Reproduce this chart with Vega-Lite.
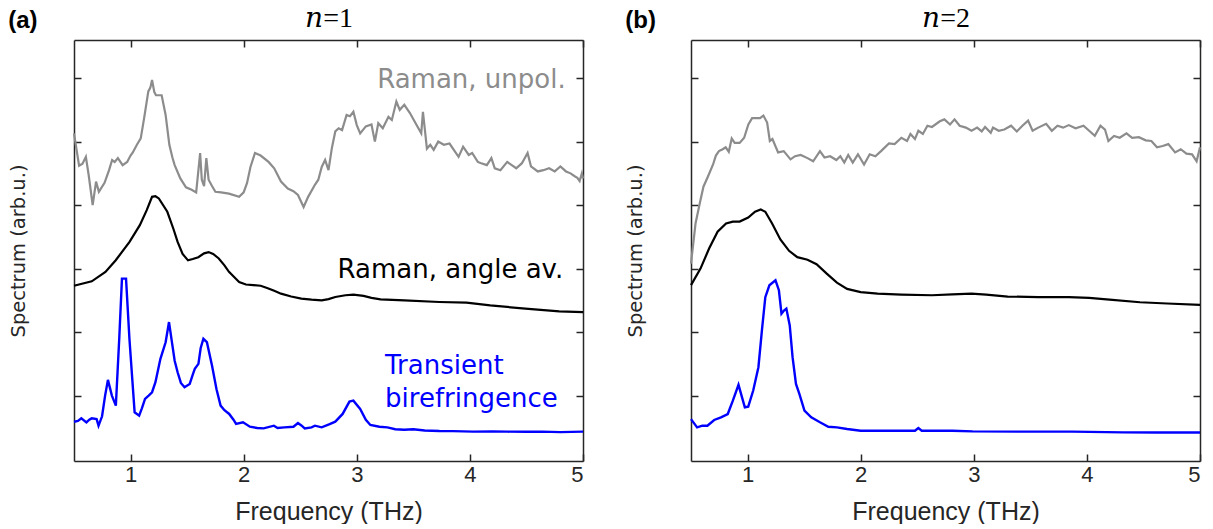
{
"$schema":"https://vega.github.io/schema/vega-lite/v6.json",
"background":"white",
"padding":{"left":8,"top":4,"right":5,"bottom":0},
"spacing":37,
"datasets":{
"na":[
{"s":"gray","f":0.5,"v":5.13},{"s":"gray","f":0.545,"v":4.62},{"s":"gray","f":0.575,"v":4.65},{"s":"gray","f":0.605,"v":4.76},{"s":"gray","f":0.63,"v":4.47},{"s":"gray","f":0.665,"v":4.0},{"s":"gray","f":0.695,"v":4.37},{"s":"gray","f":0.72,"v":4.21},{"s":"gray","f":0.77,"v":4.35},{"s":"gray","f":0.81,"v":4.55},{"s":"gray","f":0.837,"v":4.71},{"s":"gray","f":0.86,"v":4.68},{"s":"gray","f":0.888,"v":4.74},{"s":"gray","f":0.93,"v":4.63},{"s":"gray","f":0.97,"v":4.68},{"s":"gray","f":1.0,"v":4.78},{"s":"gray","f":1.02,"v":4.83},{"s":"gray","f":1.056,"v":4.95},{"s":"gray","f":1.09,"v":5.05},{"s":"gray","f":1.12,"v":5.37},{"s":"gray","f":1.157,"v":5.79},{"s":"gray","f":1.175,"v":5.85},{"s":"gray","f":1.19,"v":5.97},{"s":"gray","f":1.21,"v":5.78},{"s":"gray","f":1.225,"v":5.73},{"s":"gray","f":1.255,"v":5.73},{"s":"gray","f":1.275,"v":5.73},{"s":"gray","f":1.31,"v":5.42},{"s":"gray","f":1.343,"v":4.95},{"s":"gray","f":1.37,"v":4.75},{"s":"gray","f":1.39,"v":4.63},{"s":"gray","f":1.44,"v":4.42},{"s":"gray","f":1.49,"v":4.28},{"s":"gray","f":1.54,"v":4.24},{"s":"gray","f":1.58,"v":4.2},{"s":"gray","f":1.6,"v":4.55},{"s":"gray","f":1.615,"v":4.82},{"s":"gray","f":1.63,"v":4.4},{"s":"gray","f":1.65,"v":4.3},{"s":"gray","f":1.67,"v":4.74},{"s":"gray","f":1.69,"v":4.4},{"s":"gray","f":1.72,"v":4.3},{"s":"gray","f":1.75,"v":4.21},{"s":"gray","f":1.8,"v":4.2},{"s":"gray","f":1.87,"v":4.18},{"s":"gray","f":1.96,"v":4.13},{"s":"gray","f":2.0,"v":4.2},{"s":"gray","f":2.03,"v":4.35},{"s":"gray","f":2.06,"v":4.6},{"s":"gray","f":2.1,"v":4.82},{"s":"gray","f":2.15,"v":4.78},{"s":"gray","f":2.22,"v":4.68},{"s":"gray","f":2.27,"v":4.58},{"s":"gray","f":2.33,"v":4.37},{"s":"gray","f":2.39,"v":4.26},{"s":"gray","f":2.44,"v":4.22},{"s":"gray","f":2.48,"v":4.16},{"s":"gray","f":2.53,"v":3.97},{"s":"gray","f":2.57,"v":4.13},{"s":"gray","f":2.63,"v":4.32},{"s":"gray","f":2.66,"v":4.4},{"s":"gray","f":2.69,"v":4.6},{"s":"gray","f":2.72,"v":4.71},{"s":"gray","f":2.75,"v":4.55},{"s":"gray","f":2.78,"v":4.9},{"s":"gray","f":2.81,"v":5.16},{"s":"gray","f":2.84,"v":5.21},{"s":"gray","f":2.87,"v":5.18},{"s":"gray","f":2.91,"v":5.42},{"s":"gray","f":2.94,"v":5.4},{"s":"gray","f":2.97,"v":5.47},{"s":"gray","f":3.0,"v":5.26},{"s":"gray","f":3.03,"v":5.13},{"s":"gray","f":3.08,"v":5.24},{"s":"gray","f":3.13,"v":5.27},{"s":"gray","f":3.16,"v":5.0},{"s":"gray","f":3.19,"v":5.29},{"s":"gray","f":3.23,"v":5.21},{"s":"gray","f":3.28,"v":5.39},{"s":"gray","f":3.31,"v":5.34},{"s":"gray","f":3.35,"v":5.63},{"s":"gray","f":3.38,"v":5.5},{"s":"gray","f":3.42,"v":5.58},{"s":"gray","f":3.47,"v":5.45},{"s":"gray","f":3.52,"v":5.29},{"s":"gray","f":3.57,"v":5.13},{"s":"gray","f":3.585,"v":5.47},{"s":"gray","f":3.62,"v":4.89},{"s":"gray","f":3.65,"v":4.95},{"s":"gray","f":3.68,"v":4.87},{"s":"gray","f":3.72,"v":5.0},{"s":"gray","f":3.77,"v":4.95},{"s":"gray","f":3.82,"v":4.97},{"s":"gray","f":3.87,"v":4.84},{"s":"gray","f":3.9,"v":4.76},{"s":"gray","f":3.94,"v":4.92},{"s":"gray","f":3.99,"v":4.79},{"s":"gray","f":4.02,"v":4.82},{"s":"gray","f":4.07,"v":4.68},{"s":"gray","f":4.1,"v":4.66},{"s":"gray","f":4.15,"v":4.63},{"s":"gray","f":4.19,"v":4.74},{"s":"gray","f":4.22,"v":4.58},{"s":"gray","f":4.27,"v":4.55},{"s":"gray","f":4.33,"v":4.68},{"s":"gray","f":4.37,"v":4.63},{"s":"gray","f":4.41,"v":4.58},{"s":"gray","f":4.46,"v":4.66},{"s":"gray","f":4.51,"v":4.82},{"s":"gray","f":4.54,"v":4.61},{"s":"gray","f":4.6,"v":4.53},{"s":"gray","f":4.65,"v":4.55},{"s":"gray","f":4.7,"v":4.58},{"s":"gray","f":4.75,"v":4.53},{"s":"gray","f":4.8,"v":4.61},{"s":"gray","f":4.85,"v":4.53},{"s":"gray","f":4.89,"v":4.5},{"s":"gray","f":4.93,"v":4.45},{"s":"gray","f":4.95,"v":4.43},{"s":"gray","f":4.97,"v":4.38},{"s":"gray","f":4.99,"v":4.5},{"s":"gray","f":5.0,"v":4.42},
{"s":"black","f":0.5,"v":2.73},{"s":"black","f":0.657,"v":2.8},{"s":"black","f":0.778,"v":2.947},{"s":"black","f":0.869,"v":3.132},{"s":"black","f":0.991,"v":3.42},{"s":"black","f":1.082,"v":3.684},{"s":"black","f":1.143,"v":3.92},{"s":"black","f":1.19,"v":4.13},{"s":"black","f":1.22,"v":4.14},{"s":"black","f":1.25,"v":4.105},{"s":"black","f":1.325,"v":3.895},{"s":"black","f":1.38,"v":3.62},{"s":"black","f":1.416,"v":3.42},{"s":"black","f":1.46,"v":3.23},{"s":"black","f":1.508,"v":3.13},{"s":"black","f":1.55,"v":3.15},{"s":"black","f":1.599,"v":3.18},{"s":"black","f":1.65,"v":3.24},{"s":"black","f":1.69,"v":3.26},{"s":"black","f":1.73,"v":3.23},{"s":"black","f":1.78,"v":3.16},{"s":"black","f":1.83,"v":3.05},{"s":"black","f":1.87,"v":2.95},{"s":"black","f":1.92,"v":2.86},{"s":"black","f":1.96,"v":2.79},{"s":"black","f":2.02,"v":2.75},{"s":"black","f":2.085,"v":2.74},{"s":"black","f":2.15,"v":2.73},{"s":"black","f":2.207,"v":2.695},{"s":"black","f":2.27,"v":2.65},{"s":"black","f":2.33,"v":2.605},{"s":"black","f":2.42,"v":2.56},{"s":"black","f":2.51,"v":2.526},{"s":"black","f":2.6,"v":2.51},{"s":"black","f":2.69,"v":2.5},{"s":"black","f":2.75,"v":2.52},{"s":"black","f":2.81,"v":2.553},{"s":"black","f":2.9,"v":2.58},{"s":"black","f":2.97,"v":2.59},{"s":"black","f":3.06,"v":2.57},{"s":"black","f":3.13,"v":2.54},{"s":"black","f":3.21,"v":2.516},{"s":"black","f":3.42,"v":2.5},{"s":"black","f":3.73,"v":2.474},{"s":"black","f":3.97,"v":2.463},{"s":"black","f":4.18,"v":2.42},{"s":"black","f":4.49,"v":2.37},{"s":"black","f":4.79,"v":2.326},{"s":"black","f":5.0,"v":2.316},
{"s":"blue","f":0.5,"v":0.589},{"s":"blue","f":0.535,"v":0.6},{"s":"blue","f":0.565,"v":0.642},{"s":"blue","f":0.61,"v":0.579},{"s":"blue","f":0.635,"v":0.62},{"s":"blue","f":0.657,"v":0.642},{"s":"blue","f":0.7,"v":0.63},{"s":"blue","f":0.717,"v":0.526},{"s":"blue","f":0.748,"v":0.674},{"s":"blue","f":0.775,"v":1.0},{"s":"blue","f":0.8,"v":1.247},{"s":"blue","f":0.835,"v":1.0},{"s":"blue","f":0.87,"v":0.842},{"s":"blue","f":0.9,"v":1.9},{"s":"blue","f":0.924,"v":2.842},{"s":"blue","f":0.96,"v":2.842},{"s":"blue","f":0.99,"v":1.895},{"s":"blue","f":1.036,"v":0.737},{"s":"blue","f":1.076,"v":0.684},{"s":"blue","f":1.1,"v":0.8},{"s":"blue","f":1.128,"v":0.947},{"s":"blue","f":1.16,"v":1.0},{"s":"blue","f":1.19,"v":1.053},{"s":"blue","f":1.22,"v":1.21},{"s":"blue","f":1.264,"v":1.579},{"s":"blue","f":1.31,"v":1.84},{"s":"blue","f":1.34,"v":2.158},{"s":"blue","f":1.37,"v":1.79},{"s":"blue","f":1.39,"v":1.55},{"s":"blue","f":1.416,"v":1.368},{"s":"blue","f":1.445,"v":1.2},{"s":"blue","f":1.477,"v":1.132},{"s":"blue","f":1.523,"v":1.184},{"s":"blue","f":1.55,"v":1.33},{"s":"blue","f":1.568,"v":1.42},{"s":"blue","f":1.6,"v":1.5},{"s":"blue","f":1.62,"v":1.75},{"s":"blue","f":1.644,"v":1.895},{"s":"blue","f":1.675,"v":1.842},{"s":"blue","f":1.72,"v":1.474},{"s":"blue","f":1.76,"v":1.1},{"s":"blue","f":1.796,"v":0.842},{"s":"blue","f":1.83,"v":0.77},{"s":"blue","f":1.872,"v":0.711},{"s":"blue","f":1.91,"v":0.62},{"s":"blue","f":1.933,"v":0.553},{"s":"blue","f":1.994,"v":0.579},{"s":"blue","f":2.055,"v":0.51},{"s":"blue","f":2.12,"v":0.49},{"s":"blue","f":2.176,"v":0.484},{"s":"blue","f":2.267,"v":0.526},{"s":"blue","f":2.3,"v":0.49},{"s":"blue","f":2.36,"v":0.5},{"s":"blue","f":2.44,"v":0.51},{"s":"blue","f":2.48,"v":0.568},{"s":"blue","f":2.51,"v":0.53},{"s":"blue","f":2.54,"v":0.484},{"s":"blue","f":2.6,"v":0.5},{"s":"blue","f":2.63,"v":0.526},{"s":"blue","f":2.69,"v":0.5},{"s":"blue","f":2.76,"v":0.55},{"s":"blue","f":2.81,"v":0.589},{"s":"blue","f":2.875,"v":0.711},{"s":"blue","f":2.935,"v":0.905},{"s":"blue","f":2.97,"v":0.92},{"s":"blue","f":3.03,"v":0.79},{"s":"blue","f":3.08,"v":0.62},{"s":"blue","f":3.12,"v":0.537},{"s":"blue","f":3.2,"v":0.51},{"s":"blue","f":3.27,"v":0.5},{"s":"blue","f":3.34,"v":0.47},{"s":"blue","f":3.42,"v":0.463},{"s":"blue","f":3.5,"v":0.47},{"s":"blue","f":3.6,"v":0.45},{"s":"blue","f":3.73,"v":0.442},{"s":"blue","f":3.85,"v":0.44},{"s":"blue","f":4.03,"v":0.432},{"s":"blue","f":4.2,"v":0.435},{"s":"blue","f":4.33,"v":0.432},{"s":"blue","f":4.5,"v":0.43},{"s":"blue","f":4.64,"v":0.432},{"s":"blue","f":4.8,"v":0.425},{"s":"blue","f":5.0,"v":0.432}
],
"nb":[
{"s":"gray","f":0.5,"v":3.08},{"s":"gray","f":0.54,"v":3.71},{"s":"gray","f":0.58,"v":4.05},{"s":"gray","f":0.61,"v":4.29},{"s":"gray","f":0.65,"v":4.45},{"s":"gray","f":0.695,"v":4.64},{"s":"gray","f":0.72,"v":4.78},{"s":"gray","f":0.747,"v":4.85},{"s":"gray","f":0.78,"v":4.88},{"s":"gray","f":0.806,"v":4.91},{"s":"gray","f":0.834,"v":4.84},{"s":"gray","f":0.86,"v":5.05},{"s":"gray","f":0.886,"v":4.98},{"s":"gray","f":0.93,"v":4.98},{"s":"gray","f":0.97,"v":5.06},{"s":"gray","f":1.007,"v":5.27},{"s":"gray","f":1.04,"v":5.37},{"s":"gray","f":1.11,"v":5.37},{"s":"gray","f":1.14,"v":5.41},{"s":"gray","f":1.173,"v":5.3},{"s":"gray","f":1.197,"v":5.01},{"s":"gray","f":1.22,"v":5.04},{"s":"gray","f":1.27,"v":4.83},{"s":"gray","f":1.32,"v":4.85},{"s":"gray","f":1.38,"v":4.72},{"s":"gray","f":1.42,"v":4.77},{"s":"gray","f":1.47,"v":4.79},{"s":"gray","f":1.53,"v":4.74},{"s":"gray","f":1.58,"v":4.69},{"s":"gray","f":1.64,"v":4.85},{"s":"gray","f":1.68,"v":4.75},{"s":"gray","f":1.73,"v":4.77},{"s":"gray","f":1.785,"v":4.71},{"s":"gray","f":1.82,"v":4.77},{"s":"gray","f":1.855,"v":4.67},{"s":"gray","f":1.89,"v":4.79},{"s":"gray","f":1.93,"v":4.67},{"s":"gray","f":1.976,"v":4.8},{"s":"gray","f":2.03,"v":4.64},{"s":"gray","f":2.08,"v":4.8},{"s":"gray","f":2.13,"v":4.77},{"s":"gray","f":2.18,"v":4.85},{"s":"gray","f":2.25,"v":4.97},{"s":"gray","f":2.3,"v":4.96},{"s":"gray","f":2.36,"v":5.06},{"s":"gray","f":2.41,"v":5.01},{"s":"gray","f":2.44,"v":5.12},{"s":"gray","f":2.48,"v":5.04},{"s":"gray","f":2.51,"v":5.17},{"s":"gray","f":2.55,"v":5.12},{"s":"gray","f":2.59,"v":5.25},{"s":"gray","f":2.63,"v":5.23},{"s":"gray","f":2.7,"v":5.32},{"s":"gray","f":2.74,"v":5.35},{"s":"gray","f":2.79,"v":5.27},{"s":"gray","f":2.83,"v":5.35},{"s":"gray","f":2.875,"v":5.25},{"s":"gray","f":2.93,"v":5.22},{"s":"gray","f":2.98,"v":5.17},{"s":"gray","f":3.03,"v":5.22},{"s":"gray","f":3.07,"v":5.16},{"s":"gray","f":3.1,"v":5.23},{"s":"gray","f":3.15,"v":5.14},{"s":"gray","f":3.17,"v":5.22},{"s":"gray","f":3.22,"v":5.17},{"s":"gray","f":3.27,"v":5.19},{"s":"gray","f":3.33,"v":5.25},{"s":"gray","f":3.38,"v":5.16},{"s":"gray","f":3.43,"v":5.25},{"s":"gray","f":3.48,"v":5.33},{"s":"gray","f":3.52,"v":5.17},{"s":"gray","f":3.57,"v":5.22},{"s":"gray","f":3.64,"v":5.28},{"s":"gray","f":3.69,"v":5.17},{"s":"gray","f":3.74,"v":5.25},{"s":"gray","f":3.79,"v":5.22},{"s":"gray","f":3.84,"v":5.26},{"s":"gray","f":3.9,"v":5.21},{"s":"gray","f":3.97,"v":5.25},{"s":"gray","f":4.02,"v":5.17},{"s":"gray","f":4.07,"v":5.09},{"s":"gray","f":4.12,"v":5.25},{"s":"gray","f":4.16,"v":5.19},{"s":"gray","f":4.19,"v":5.01},{"s":"gray","f":4.24,"v":5.09},{"s":"gray","f":4.29,"v":5.06},{"s":"gray","f":4.35,"v":5.13},{"s":"gray","f":4.4,"v":5.06},{"s":"gray","f":4.46,"v":5.07},{"s":"gray","f":4.52,"v":5.02},{"s":"gray","f":4.57,"v":5.01},{"s":"gray","f":4.62,"v":4.91},{"s":"gray","f":4.67,"v":4.93},{"s":"gray","f":4.72,"v":4.96},{"s":"gray","f":4.78,"v":4.83},{"s":"gray","f":4.83,"v":4.88},{"s":"gray","f":4.88,"v":4.81},{"s":"gray","f":4.93,"v":4.8},{"s":"gray","f":4.97,"v":4.69},{"s":"gray","f":5.0,"v":4.91},
{"s":"black","f":0.5,"v":2.74},{"s":"black","f":0.584,"v":3.0},{"s":"black","f":0.66,"v":3.316},{"s":"black","f":0.735,"v":3.58},{"s":"black","f":0.81,"v":3.71},{"s":"black","f":0.87,"v":3.74},{"s":"black","f":0.93,"v":3.74},{"s":"black","f":1.006,"v":3.805},{"s":"black","f":1.066,"v":3.895},{"s":"black","f":1.117,"v":3.93},{"s":"black","f":1.157,"v":3.895},{"s":"black","f":1.217,"v":3.71},{"s":"black","f":1.29,"v":3.46},{"s":"black","f":1.367,"v":3.28},{"s":"black","f":1.44,"v":3.18},{"s":"black","f":1.53,"v":3.14},{"s":"black","f":1.61,"v":3.07},{"s":"black","f":1.7,"v":2.92},{"s":"black","f":1.79,"v":2.78},{"s":"black","f":1.88,"v":2.68},{"s":"black","f":2.0,"v":2.63},{"s":"black","f":2.15,"v":2.605},{"s":"black","f":2.36,"v":2.59},{"s":"black","f":2.63,"v":2.58},{"s":"black","f":2.81,"v":2.595},{"s":"black","f":2.98,"v":2.605},{"s":"black","f":3.11,"v":2.59},{"s":"black","f":3.3,"v":2.56},{"s":"black","f":3.57,"v":2.55},{"s":"black","f":3.84,"v":2.55},{"s":"black","f":4.02,"v":2.54},{"s":"black","f":4.2,"v":2.51},{"s":"black","f":4.47,"v":2.47},{"s":"black","f":4.71,"v":2.45},{"s":"black","f":5.0,"v":2.43},
{"s":"blue","f":0.5,"v":0.63},{"s":"blue","f":0.554,"v":0.5},{"s":"blue","f":0.6,"v":0.526},{"s":"blue","f":0.645,"v":0.526},{"s":"blue","f":0.705,"v":0.616},{"s":"blue","f":0.765,"v":0.658},{"s":"blue","f":0.825,"v":0.71},{"s":"blue","f":0.87,"v":0.92},{"s":"blue","f":0.92,"v":1.17},{"s":"blue","f":0.976,"v":0.816},{"s":"blue","f":1.006,"v":0.826},{"s":"blue","f":1.05,"v":1.08},{"s":"blue","f":1.096,"v":1.447},{"s":"blue","f":1.127,"v":2.026},{"s":"blue","f":1.157,"v":2.55},{"s":"blue","f":1.193,"v":2.737},{"s":"blue","f":1.247,"v":2.816},{"s":"blue","f":1.277,"v":2.66},{"s":"blue","f":1.3,"v":2.29},{"s":"blue","f":1.322,"v":2.34},{"s":"blue","f":1.343,"v":2.37},{"s":"blue","f":1.373,"v":2.105},{"s":"blue","f":1.398,"v":1.605},{"s":"blue","f":1.428,"v":1.184},{"s":"blue","f":1.458,"v":1.026},{"s":"blue","f":1.503,"v":0.763},{"s":"blue","f":1.563,"v":0.658},{"s":"blue","f":1.64,"v":0.58},{"s":"blue","f":1.714,"v":0.51},{"s":"blue","f":1.79,"v":0.5},{"s":"blue","f":1.88,"v":0.474},{"s":"blue","f":2.0,"v":0.447},{"s":"blue","f":2.21,"v":0.447},{"s":"blue","f":2.48,"v":0.447},{"s":"blue","f":2.51,"v":0.49},{"s":"blue","f":2.54,"v":0.447},{"s":"blue","f":2.81,"v":0.447},{"s":"blue","f":2.99,"v":0.437},{"s":"blue","f":3.42,"v":0.432},{"s":"blue","f":3.87,"v":0.432},{"s":"blue","f":4.32,"v":0.42},{"s":"blue","f":4.62,"v":0.42},{"s":"blue","f":5.0,"v":0.42}
],
"la":[
{"s":"gray","f":3.18,"v":5.84,"t":"Raman, unpol."},
{"s":"black","f":2.83,"v":2.85,"t":"Raman, angle av."},
{"s":"blue","f":3.25,"v":1.34,"t":"Transient"},
{"s":"blue","f":3.25,"v":0.826,"t":"birefringence"}
]
},
"hconcat":[
{
"width":509,"height":421,
"title":{"text":"(a)","anchor":"start","frame":"bounds","font":"Liberation Sans","fontSize":24,"fontWeight":"bold","color":"#000000","offset":-29},
"layer":[
{"data":{"name":"na"},"transform":[{"filter":"datum.s != 'blue'"}],"mark":{"type":"line","strokeWidth":2.2},
"encoding":{
"x":{"field":"f","type":"quantitative","scale":{"domain":[0.5,5],"nice":false,"zero":false},"axis":{"orient":"bottom","values":[1,2,3,4,5],"tickSize":-7,"labelFont":"Liberation Sans","labelFontSize":22,"labelColor":"#262626","labelPadding":10,"title":"Frequency (THz)","titleFont":"Liberation Sans","titleFontSize":25,"titleFontWeight":"normal","titleColor":"#262626","titlePadding":14}},
"y":{"field":"v","type":"quantitative","scale":{"domain":[-0.03,6.6],"nice":false,"zero":false},"axis":{"orient":"left","values":[1,2,3,4,5,6],"tickSize":-7,"labels":false,"title":"Spectrum (arb.u.)","titleFont":"DejaVu Sans","titleFontSize":19.5,"titleFontWeight":"normal","titleColor":"#262626","titlePadding":45}},
"color":{"field":"s","type":"nominal","scale":{"domain":["gray","black","blue"],"range":["#8c8c8c","#000000","#0000ff"]},"legend":null}}},
{"data":{"name":"na"},"transform":[{"filter":"datum.s == 'blue'"}],"mark":{"type":"line","strokeWidth":2.4},
"encoding":{
"x":{"field":"f","type":"quantitative","scale":{"domain":[0.5,5],"nice":false,"zero":false},"axis":{"orient":"top","values":[1,2,3,4,5],"tickSize":-7,"labels":false,"title":"𝑛=1","titleFont":"Liberation Serif, DejaVu Serif","titleFontSize":28,"titleFontWeight":"normal","titleColor":"#000000","titlePadding":7}},
"y":{"field":"v","type":"quantitative","scale":{"domain":[-0.03,6.6],"nice":false,"zero":false},"axis":{"orient":"right","values":[1,2,3,4,5,6],"tickSize":-7,"labels":false,"title":null}},
"color":{"field":"s","type":"nominal","scale":{"domain":["gray","black","blue"],"range":["#8c8c8c","#000000","#0000ff"]},"legend":null}}},
{"data":{"name":"la"},"mark":{"type":"text","align":"left","baseline":"alphabetic","font":"DejaVu Sans","fontSize":26},
"encoding":{
"x":{"field":"f","type":"quantitative","scale":{"domain":[0.5,5],"nice":false,"zero":false},"axis":null},
"y":{"field":"v","type":"quantitative","scale":{"domain":[-0.03,6.6],"nice":false,"zero":false},"axis":null},
"text":{"field":"t"},
"color":{"field":"s","type":"nominal","scale":{"domain":["gray","black","blue"],"range":["#8c8c8c","#000000","#0000ff"]},"legend":null}}}
],
"resolve":{"axis":{"x":"independent","y":"independent"}}
},
{
"width":509,"height":421,
"title":{"text":"(b)","anchor":"start","frame":"bounds","font":"Liberation Sans","fontSize":24,"fontWeight":"bold","color":"#000000","offset":-29},
"layer":[
{"data":{"name":"nb"},"transform":[{"filter":"datum.s != 'blue'"}],"mark":{"type":"line","strokeWidth":2.2},
"encoding":{
"x":{"field":"f","type":"quantitative","scale":{"domain":[0.5,5],"nice":false,"zero":false},"axis":{"orient":"bottom","values":[1,2,3,4,5],"tickSize":-7,"labelFont":"Liberation Sans","labelFontSize":22,"labelColor":"#262626","labelPadding":10,"title":"Frequency (THz)","titleFont":"Liberation Sans","titleFontSize":25,"titleFontWeight":"normal","titleColor":"#262626","titlePadding":14}},
"y":{"field":"v","type":"quantitative","scale":{"domain":[-0.03,6.6],"nice":false,"zero":false},"axis":{"orient":"left","values":[1,2,3,4,5,6],"tickSize":-7,"labels":false,"title":"Spectrum (arb.u.)","titleFont":"DejaVu Sans","titleFontSize":19.5,"titleFontWeight":"normal","titleColor":"#262626","titlePadding":45}},
"color":{"field":"s","type":"nominal","scale":{"domain":["gray","black","blue"],"range":["#8c8c8c","#000000","#0000ff"]},"legend":null}}},
{"data":{"name":"nb"},"transform":[{"filter":"datum.s == 'blue'"}],"mark":{"type":"line","strokeWidth":2.4},
"encoding":{
"x":{"field":"f","type":"quantitative","scale":{"domain":[0.5,5],"nice":false,"zero":false},"axis":{"orient":"top","values":[1,2,3,4,5],"tickSize":-7,"labels":false,"title":"𝑛=2","titleFont":"Liberation Serif, DejaVu Serif","titleFontSize":28,"titleFontWeight":"normal","titleColor":"#000000","titlePadding":7}},
"y":{"field":"v","type":"quantitative","scale":{"domain":[-0.03,6.6],"nice":false,"zero":false},"axis":{"orient":"right","values":[1,2,3,4,5,6],"tickSize":-7,"labels":false,"title":null}},
"color":{"field":"s","type":"nominal","scale":{"domain":["gray","black","blue"],"range":["#8c8c8c","#000000","#0000ff"]},"legend":null}}}
],
"resolve":{"axis":{"x":"independent","y":"independent"}}
}
],
"config":{"view":{"stroke":null},"axis":{"grid":false,"domainColor":"#262626","domainWidth":1.5,"tickColor":"#262626","tickWidth":1.5}}
}
